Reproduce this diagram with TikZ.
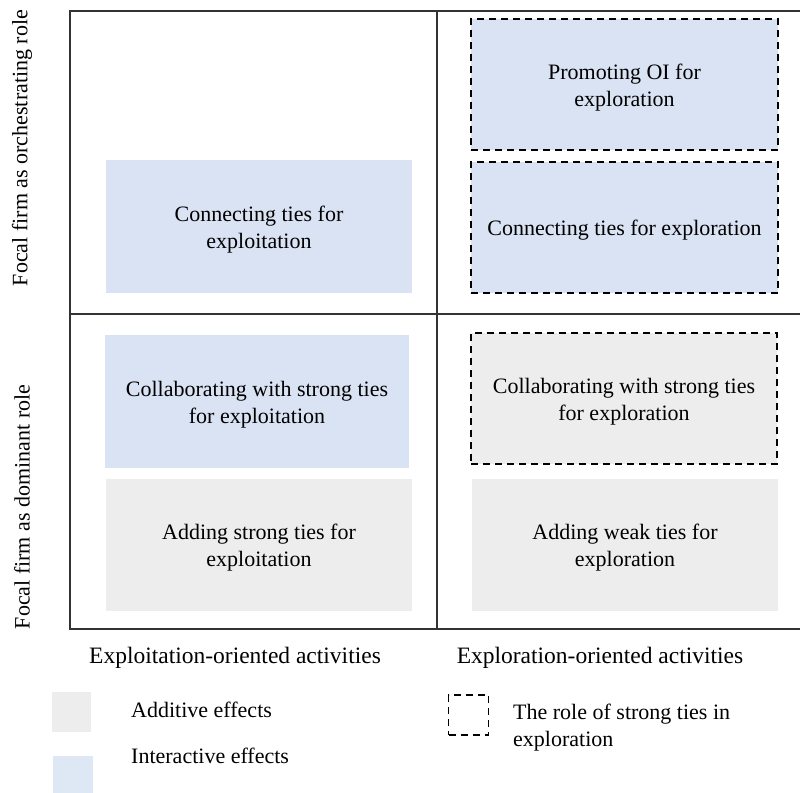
\documentclass[tikz,border=0pt]{standalone}
\usepackage{fontspec}
\setmainfont{Liberation Serif}
\begin{document}
\begin{tikzpicture}[x=1pt,y=-1pt,
  grid/.style={draw=black!80, line width=1.6pt},
  celltext/.style={inner sep=0pt, align=center, yshift=-3pt,
    font=\fontsize{22}{27}\selectfont},
  cell/.style={rectangle, inner sep=0pt},
  bluecell/.style={cell, fill=blueFill},
  graycell/.style={cell, fill=grayFill},
  dashbox/.style={draw=black, line width=1.4pt, dash pattern=on 7pt off 5pt},
  axislabel/.style={font=\fontsize{23.5}{28}\selectfont},
  sidelabel/.style={font=\fontsize{22}{26}\selectfont, rotate=90},
  legendtext/.style={font=\fontsize{22}{27}\selectfont, align=left, anchor=west, inner sep=0pt}
]
\definecolor{blueFill}{HTML}{DAE3F3}
\definecolor{grayFill}{HTML}{EDEDED}
\definecolor{legendBlue}{HTML}{DDE8F4}
\useasboundingbox (0,0) rectangle (800,792);

% quadrant grid
\draw[grid] (800,11) -- (70,11) -- (70,629) -- (800,629);
\draw[grid] (70,314) -- (800,314);
\draw[grid] (437,11) -- (437,629);

% orchestrating role, exploitation
\node[bluecell, minimum width=306pt, minimum height=133pt,
  label={[celltext]center:{Connecting ties for\\exploitation}}] (cte) at (259,226.5) {};

% orchestrating role, exploration
\node[bluecell, dashbox, minimum width=307pt, minimum height=131pt,
  label={[celltext]center:{Promoting OI for\\exploration}}] (poi) at (624.5,84.5) {};
\node[bluecell, dashbox, minimum width=307pt, minimum height=131pt,
  label={[celltext]center:{Connecting ties for exploration}}] (ctr) at (624.5,227.5) {};

% dominant role, exploitation
\node[bluecell, minimum width=304pt, minimum height=133pt,
  label={[celltext]center:{Collaborating with strong ties\\for exploitation}}] (cse) at (257,401.5) {};
\node[graycell, minimum width=306pt, minimum height=132pt,
  label={[celltext]center:{Adding strong ties for\\exploitation}}] (ase) at (259,545) {};

% dominant role, exploration
\node[graycell, dashbox, minimum width=306pt, minimum height=131pt,
  label={[celltext]center:{Collaborating with strong ties\\for exploration}}] (csr) at (624,398.5) {};
\node[graycell, minimum width=306pt, minimum height=132pt,
  label={[celltext]center:{Adding weak ties for\\exploration}}] (awr) at (625,545) {};

% axis labels
\node[sidelabel] (orch) at (22,148) {Focal firm as orchestrating role};
\node[sidelabel] (dom) at (22,507) {Focal firm as dominant role};
\node[axislabel] (xploit) at (235,658) {Exploitation-oriented activities};
\node[axislabel] (xplore) at (600,658) {Exploration-oriented activities};

% legend
\node[rectangle, fill=grayFill, minimum width=39pt, minimum height=40pt, inner sep=0pt] (kadd) at (71.5,712) {};
\node[rectangle, fill=legendBlue, minimum width=40pt, minimum height=40pt, inner sep=0pt] (kint) at (73,776) {};
\node[rectangle, dashbox, minimum width=40pt, minimum height=40pt, inner sep=0pt] (kdash) at (468.5,715) {};
\node[legendtext] (tadd) at (131,710) {Additive effects};
\node[legendtext] (tint) at (131,756) {Interactive effects};
\node[legendtext, anchor=north west] (tdash) at (513,704) {The role of strong ties in\\exploration};
\end{tikzpicture}
\end{document}
